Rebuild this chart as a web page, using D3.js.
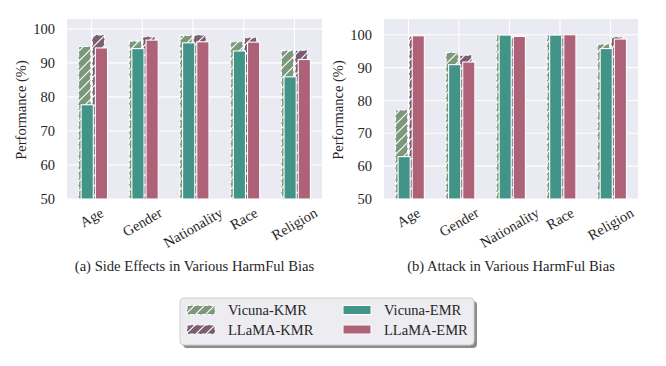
<!DOCTYPE html>
<html lang="en">
<head>
  <meta charset="UTF-8">
  <title>HarmFul Bias</title>
</head>
<style>
    body { margin: 0; background: #fff; }
    text { font-family: "Liberation Serif", "Times New Roman", serif; fill: #262626; }
    .grid line { stroke: #fff; stroke-width: 1.1px; }
</style>
<body>
<div id="chart"></div>
<script src="https://d3js.org/d3.v7.min.js"></script>
<script>
/* global d3 */

var categories = ["Age", "Gender", "Nationality", "Race", "Religion"];
var yTicks = [50, 60, 70, 80, 90, 100];

// (a) side effects
var sideVicunaKMR = [94.8, 96.4, 98.1, 96.2, 93.6];
var sideVicunaEMR = [77.7, 94.2, 95.9, 93.5, 85.9];
var sideLlamaKMR  = [98.2, 97.7, 98.2, 97.4, 93.7];
var sideLlamaEMR  = [94.4, 96.7, 96.2, 96.1, 91.0];

// (b) attack
var attackVicunaKMR = [77.1, 94.6, 100, 100, 97.1];
var attackVicunaEMR = [62.9, 90.9, 99.9, 99.9, 95.8];
var attackLlamaKMR  = [99.6, 93.8, 99.6, 100, 99.3];
var attackLlamaEMR  = [99.7, 91.7, 99.5, 100, 98.7];

var legendLabels = ["Vicuna-KMR", "LLaMA-KMR", "Vicuna-EMR", "LLaMA-EMR"];

var colors = {
  vk: "#7b987b",
  lk: "#7a5d70",
  ve: "#429488",
  le: "#ae6277"
};

var barW = 0.24;
// draw order: hatched KMR first, EMR on top
var seriesStyle = [
  {key: "vk", off: -0.135, hatch: true},
  {key: "lk", off: 0.135, hatch: true},
  {key: "ve", off: -0.085, hatch: false},
  {key: "le", off: 0.195, hatch: false}
];

var fs = "14.5px";
var width = 666, height = 366;
var svg = d3.select("#chart").append("svg")
    .attr("width", width)
    .attr("height", height);

var defs = svg.append("defs");
["vk", "lk"].forEach(function(k) {
  var p = defs.append("pattern")
      .attr("id", "hatch-" + k)
      .attr("patternUnits", "userSpaceOnUse")
      .attr("width", 10)
      .attr("height", 10);
  p.append("rect").attr("width", 10).attr("height", 10).attr("fill", colors[k]);
  p.append("path")
      .attr("d", "M0,10L10,0M-2.5,2.5L2.5,-2.5M7.5,12.5L12.5,7.5")
      .attr("stroke", "#fff")
      .attr("stroke-width", 1.2);
});

function drawPanel(opts) {
  var g = svg.append("g");
  var x = d3.scaleLinear().domain([-0.4835, 4.5435]).range([opts.left, opts.right]);
  var y = d3.scaleLinear().domain([50, opts.yMax]).range([199, 19]);

  g.append("rect")
      .attr("x", opts.left).attr("y", 19)
      .attr("width", opts.right - opts.left).attr("height", 180)
      .attr("fill", "#eaeaf2");

  var grid = g.append("g").attr("class", "grid");
  grid.selectAll(".hy").data(yTicks).enter().append("line")
      .attr("x1", opts.left).attr("x2", opts.right)
      .attr("y1", function(d) { return y(d); })
      .attr("y2", function(d) { return y(d); });
  grid.selectAll(".vx").data(categories).enter().append("line")
      .attr("x1", function(d, i) { return x(i); })
      .attr("x2", function(d, i) { return x(i); })
      .attr("y1", 19).attr("y2", 199);

  var bw = x(barW) - x(0);
  seriesStyle.forEach(function(s) {
    var vals = opts.data[s.key];
    g.selectAll(".bar-" + s.key).data(vals).enter().append("rect")
        .attr("x", function(d, i) { return x(i + s.off - barW / 2); })
        .attr("width", bw)
        .attr("y", function(d) { return y(d); })
        .attr("height", function(d) { return y(50) - y(d); })
        .attr("fill", s.hatch ? "url(#hatch-" + s.key + ")" : colors[s.key])
        .attr("stroke", "#fff")
        .attr("stroke-width", 1.1)
        .attr("stroke-dasharray", s.hatch ? "4,1.8" : null);
  });

  // y ticks
  g.selectAll(".ytick").data(yTicks).enter().append("text")
      .attr("x", opts.left - 12)
      .attr("y", function(d) { return y(d); })
      .attr("dy", "0.35em")
      .attr("text-anchor", "end")
      .style("font-size", fs)
      .text(function(d) { return d; });

  g.append("text")
      .attr("transform", "translate(" + (opts.left - 46) + ",110) rotate(-90)")
      .attr("text-anchor", "middle")
      .attr("dy", "0.35em")
      .style("font-size", fs)
      .text("Performance (%)");

  // rotated category labels, bbox top at y=205
  categories.forEach(function(c, i) {
    var t = g.append("text")
        .attr("text-anchor", "middle")
        .attr("dy", "0.35em")
        .style("font-size", fs)
        .text(c);
    var w = t.node().getComputedTextLength();
    var half = (w * 0.5 + 14.5 * 0.866) / 2;
    t.attr("transform", "translate(" + x(i) + "," + (205 + half) + ") rotate(-30)");
  });

  g.append("text")
      .attr("x", (opts.left + opts.right) / 2)
      .attr("y", 271)
      .attr("text-anchor", "middle")
      .style("font-size", "14.6px")
      .text(opts.caption);
}

drawPanel({
  left: 67, right: 322, yMax: 102.9,
  caption: "(a) Side Effects in Various HarmFul Bias",
  data: {vk: sideVicunaKMR, ve: sideVicunaEMR, lk: sideLlamaKMR, le: sideLlamaEMR}
});

drawPanel({
  left: 384, right: 638, yMax: 104.8,
  caption: "(b) Attack in Various HarmFul Bias",
  data: {vk: attackVicunaKMR, ve: attackVicunaEMR, lk: attackLlamaKMR, le: attackLlamaEMR}
});

// legend
var lg = svg.append("g");
lg.append("rect")
    .attr("x", 183).attr("y", 301)
    .attr("width", 294).attr("height", 47)
    .attr("rx", 4)
    .attr("fill", "#8c8c8c");
lg.append("rect")
    .attr("x", 180).attr("y", 298)
    .attr("width", 294).attr("height", 47)
    .attr("rx", 4)
    .attr("fill", "#ececf1")
    .attr("stroke", "#cfcfcf")
    .attr("stroke-width", 1);

var legendKeys = ["vk", "lk", "ve", "le"];
legendKeys.forEach(function(k, i) {
  var col = Math.floor(i / 2), row = i % 2;
  var px = col === 0 ? 187 : 343;
  var py = row === 0 ? 310 : 329.5;
  var hatch = k === "vk" || k === "lk";
  lg.append("rect")
      .attr("x", px).attr("y", py - 4.5)
      .attr("width", 28).attr("height", 9)
      .attr("fill", hatch ? "url(#hatch-" + k + ")" : colors[k])
      .attr("stroke", "#fff")
      .attr("stroke-width", 1)
      .attr("stroke-dasharray", hatch ? "4,1.8" : null);
  lg.append("text")
      .attr("x", px + 41)
      .attr("y", py)
      .attr("dy", "0.35em")
      .style("font-size", fs)
      .text(legendLabels[i]);
});
</script>
</body>
</html>
